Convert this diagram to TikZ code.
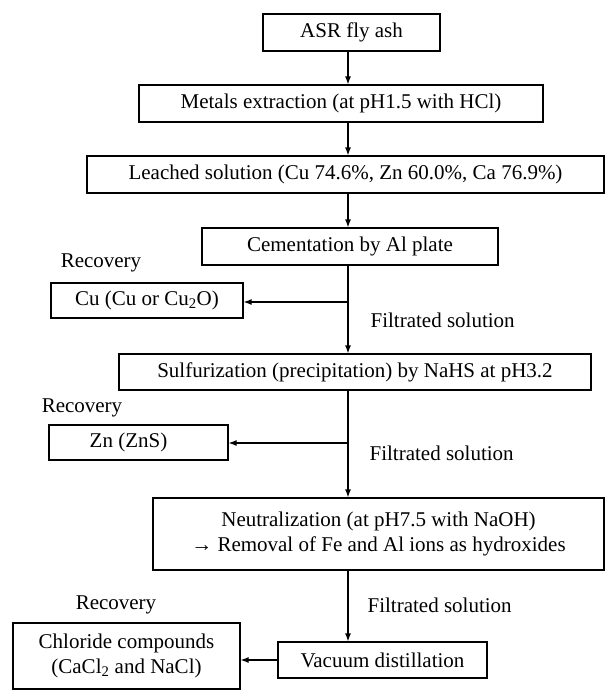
\documentclass[tikz,border=0pt]{standalone}
\usepackage{fontspec}
\setmainfont{Liberation Serif}
\usetikzlibrary{positioning, arrows.meta}

\begin{document}
\begin{tikzpicture}[
	x=1pt, y=-1pt,
	>={Latex[length=8pt,width=6pt]}, line width=1.2pt,
	box/.style = {rectangle, draw, minimum width=#1,
		minimum height=37pt, inner sep=2pt, align=center,
		font=\fontsize{21}{25}\selectfont},
	lbl/.style = {font=\fontsize{21}{25}\selectfont, inner sep=0pt}
	]
	\useasboundingbox (0,0) rectangle (609,690);
	
	\node (n1) [box=177pt] at (351.5,32.5) {ASR fly ash};
	\node (n2) [box=404pt] at (341,103.5) {Metals extraction (at pH1.5 with HCl)};
	\node (n3) [box=517pt] at (345.5,174.5) {Leached solution (Cu 74.6\%, Zn 60.0\%, Ca 76.9\%)};
	\node (n4) [box=296pt] at (350,246.5) {Cementation by Al plate};
	\node (n5) [box=192pt, minimum height=35pt] at (147,300.5) {Cu (Cu or Cu\textsubscript{2}O)};
	\node (n6) [box=472pt, minimum height=36pt] at (355,372) {Sulfurization (precipitation) by NaHS at pH3.2};
	\node (n7) [box=179pt, minimum height=35pt] at (138.5,442.5) {Zn (ZnS)\hspace*{20pt}};
	\node (n8) [box=451pt, minimum height=72pt] at (378.5,534) {Neutralization (at pH7.5 with NaOH)\\→ Removal of Fe and Al ions as hydroxides};
	\node (n9) [box=227pt, minimum height=66pt] at (126.5,656) {Chloride compounds\\(CaCl\textsubscript{2} and NaCl)};
	\node (n10) [box=209pt, minimum height=36pt] at (382.5,660) {Vacuum distillation};
	%
	\node (r1) [lbl] at (101,263) {Recovery};
	\node (r2) [lbl] at (82,408) {Recovery};
	\node (r3) [lbl] at (116,605) {Recovery};
	\node (f1) [lbl, anchor=west] at (370,320) {Filtrated solution};
	\node (f2) [lbl, anchor=west] at (369,453) {Filtrated solution};
	\node (f3) [lbl, anchor=west] at (367,605) {Filtrated solution};
	%
	\coordinate (sp) at (348,0);
	\coordinate (j1) at (348,302);
	\coordinate (j2) at (348,443);
	%
	\draw[->] (n1.south -| sp) -- (n2.north -| sp);
	\draw[->] (n2.south -| sp) -- (n3.north -| sp);
	\draw[->] (n3.south -| sp) -- (n4.north -| sp);
	\draw[->] (n4.south -| sp) -- (n6.north -| sp);
	\draw[->] (j1) -- (n5.east |- j1);
	\draw[->] (n6.south -| sp) -- (n8.north -| sp);
	\draw[->] (j2) -- (n7.east |- j2);
	\draw[->] (n8.south -| sp) -- (n10.north -| sp);
	\draw[->] (n10.west) -- (n9.east |- n10.west);
\end{tikzpicture}
\end{document}
